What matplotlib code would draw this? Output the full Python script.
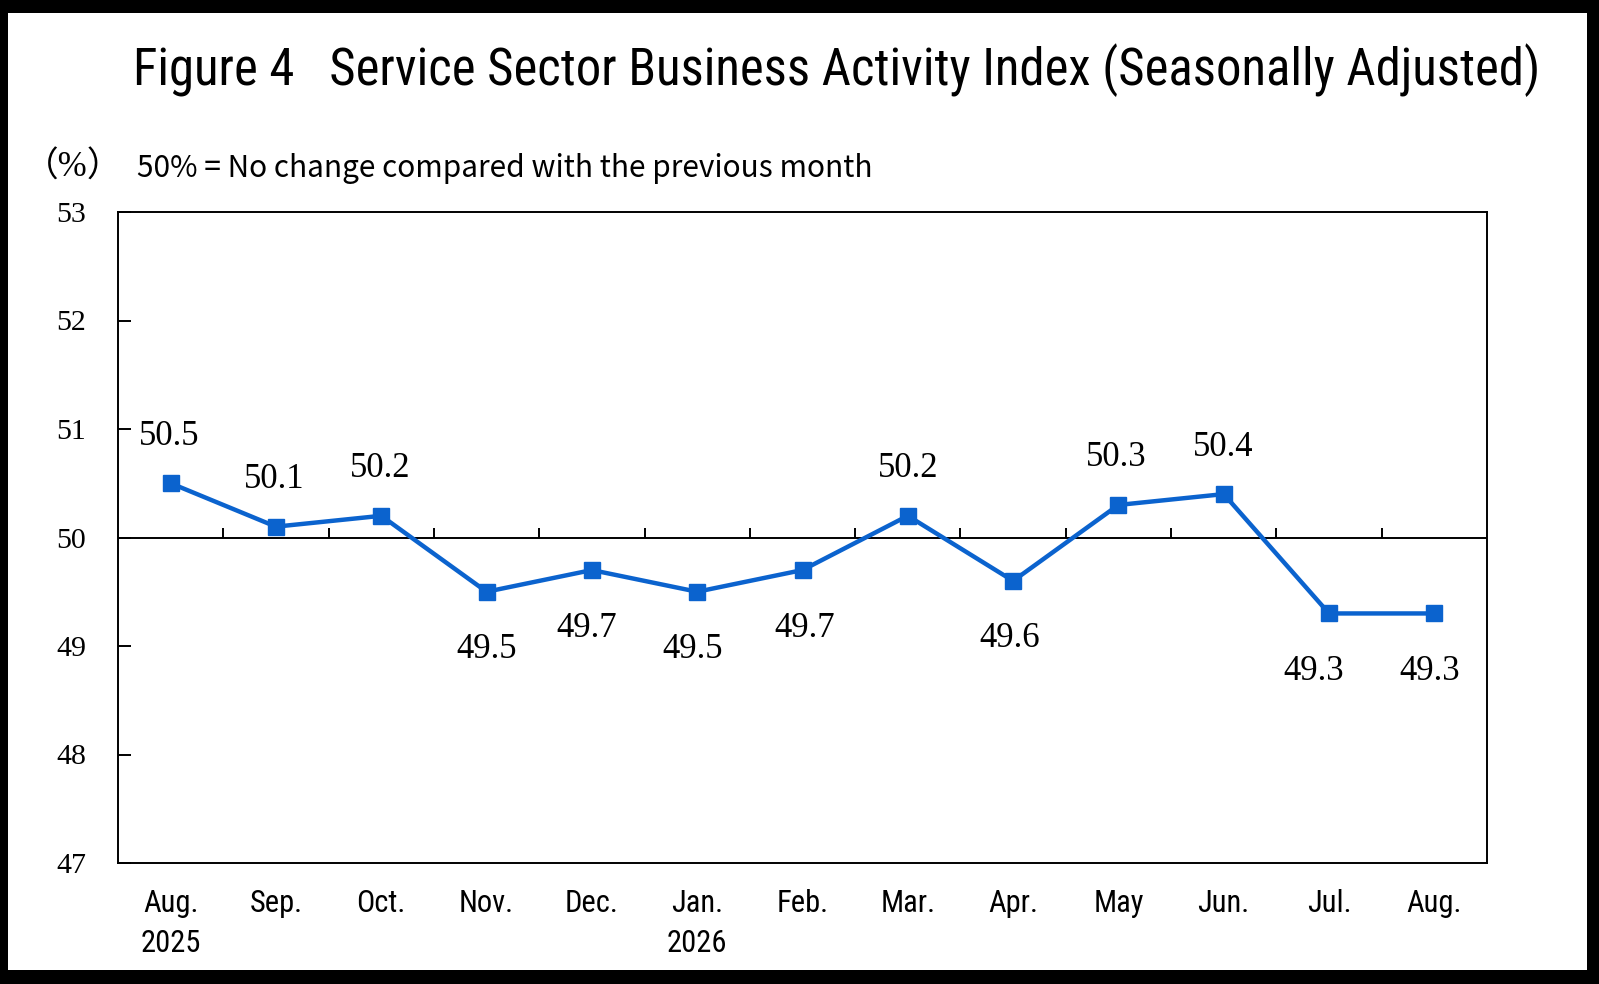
"""Service sector business activity index chart (Figure 4)."""
import matplotlib
matplotlib.use("Agg")
import matplotlib.pyplot as plt  # noqa: E402
from matplotlib.patches import Rectangle  # noqa: E402
import numpy as np  # noqa: E402

months = ["Aug.\n2025", "Sep.", "Oct.", "Nov.", "Dec.", "Jan.\n2026", "Feb.",
          "Mar.", "Apr.", "May", "Jun.", "Jul.", "Aug."]
index_values = [50.5, 50.1, 50.2, 49.5, 49.7, 49.5, 49.7, 50.2, 49.6, 50.3,
                50.4, 49.3, 49.3]
y_ticks = [47, 48, 49, 50, 51, 52, 53]

# small horizontal nudges of the value labels (pixels), as in the original
label_dx = [-1, -2, -1, 0, -5, -5, 2, 0, -3, -2, -1, -15, -5]

SANS = ["Roboto Condensed", "Noto Sans CJK JP", "DejaVu Sans"]
CJK = ["Noto Sans CJK JP", "DejaVu Sans"]
SERIF = ["Liberation Serif", "Noto Sans CJK JP", "DejaVu Serif"]
BLUE = "#0B63CE"

W, H = 1599, 984
fig = plt.figure(figsize=(W / 100, H / 100), dpi=100, facecolor="black")
fig.patches.append(Rectangle((8 / W, 1 - 970 / H), 1579 / W, 957 / H,
                             transform=fig.transFigure, facecolor="white",
                             edgecolor="none", zorder=-5))

ax = fig.add_axes([118 / W, 1 - 863 / H, (1487 - 118) / W, (863 - 212) / H])
x = np.arange(len(months))
ax.plot(x, index_values, color=BLUE, lw=3.2, marker="s", ms=11,
        zorder=3, clip_on=False)
ax.axhline(50, color="black", lw=1.4, zorder=2)
ax.vlines(x[:-1] + 0.5, 50, 50.09, color="black", lw=1.4, zorder=2)

for i, v in enumerate(index_values):
    dy = 47 if v >= 50 else -58
    ax.annotate(f"{v:.1f}", (x[i], v), xytext=(label_dx[i], dy),
                textcoords="offset pixels", ha="center", va="center",
                fontsize=25, family=SERIF)

ax.set_xlim(-0.5, len(months) - 0.5)
ax.set_ylim(47, 53)
ax.set_yticks(y_ticks)
ax.set_yticklabels([str(t) for t in y_ticks], family=SERIF, fontsize=21.5)
ax.set_xticks(x)
ax.set_xticklabels(months, family=SANS, fontsize=22, linespacing=1.45,
                   va="top")
ax.tick_params(axis="y", direction="in", length=9, width=1.4, pad=23)
ax.tick_params(axis="x", length=0, pad=19)
for s in ax.spines.values():
    s.set_linewidth(1.4)
ax.set_facecolor("white")

fig.text(837 / W, 1 - 70 / H,
         "Figure 4   Service Sector Business Activity Index (Seasonally Adjusted)",
         ha="center", va="center", fontsize=36.5, family=SANS)
fig.text(24 / W, 1 - 168 / H, "（%）", ha="left", va="center",
         fontsize=25, family=SERIF)
fig.text(137 / W, 1 - 168 / H, "50% = No change compared with the previous month",
         ha="left", va="center", fontsize=21.5, family=CJK)

fig.savefig("out.png", dpi=100, facecolor="black")
